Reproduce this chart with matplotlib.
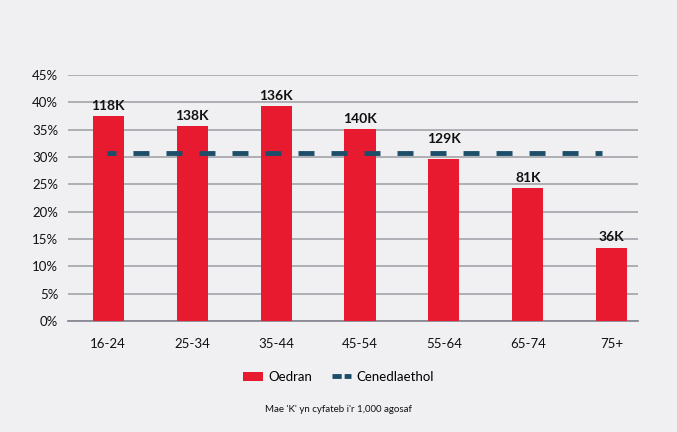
import numpy as np
import matplotlib.pyplot as plt

categories = ['16-24', '25-34', '35-44', '45-54', '55-64', '65-74', '75+']
oedran = [37.5, 35.7, 39.3, 35.1, 29.6, 24.3, 13.4]
counts = ['118K', '138K', '136K', '140K', '129K', '81K', '36K']
cenedlaethol = 30.7
yticks = [0, 5, 10, 15, 20, 25, 30, 35, 40, 45]

bg = '#f0f0f3'
red = '#e81a30'
navy = '#1d4e69'

plt.rcParams['font.family'] = ['Lato', 'DejaVu Sans']

fig = plt.figure(figsize=(6.77, 4.32), dpi=100, facecolor=bg)
ax = fig.add_axes([0.1004, 0.257, 0.8416, 0.569], facecolor=bg)

x = np.arange(len(categories))
bars = ax.bar(x, oedran, width=0.37, color=red, zorder=3, label='Oedran')

# label sits above the bar, or above the national line if it would clash
for xi, v, c in zip(x, oedran, counts):
    y = v + 0.8
    if v < cenedlaethol + 0.5 and v + 3.5 > cenedlaethol:
        y = cenedlaethol + 1.6
    ax.text(xi, y, c, ha='center', va='bottom', fontsize=10,
            fontweight='bold', color='#111111', zorder=5)

# dash pattern in points: 16px on, 17px off, first dash cut short
line, = ax.plot([-0.01, 5.88], [cenedlaethol, cenedlaethol], color=navy,
                lw=3.5, zorder=4, dash_capstyle='butt', label='Cenedlaethol')
line.set_linestyle((1.45, (3.29, 3.5)))

ax.set_xlim(-0.48, 6.31)
ax.set_ylim(0, 45)
ax.set_yticks(yticks)
ax.set_yticklabels([f'{t}%' for t in yticks])
ax.set_xticks(x)
ax.set_xticklabels(categories)
ax.tick_params(axis='both', length=0, labelsize=9.5, colors='#111111')
ax.tick_params(axis='x', pad=12)
ax.tick_params(axis='y', pad=7)
ax.yaxis.grid(True, color='#a8a8b0', lw=1.3, zorder=0)
for s in ['top', 'right', 'left']:
    ax.spines[s].set_visible(False)
ax.spines['bottom'].set_color('#8a8a95')
ax.spines['bottom'].set_linewidth(1.3)

leg_line, = plt.plot([], [], color=navy, lw=3.5, dashes=(1.9, 0.6))
fig.legend([bars, leg_line], ['Oedran', 'Cenedlaethol'], loc='center',
           bbox_to_anchor=(0.5, 1 - 377 / 432), ncol=2, frameon=False,
           fontsize=9.5, handlelength=1.5, handleheight=0.7,
           columnspacing=1.5, handletextpad=0.4)
fig.text(0.5, 1 - 410 / 432, "Mae 'K' yn cyfateb i'r 1,000 agosaf",
         ha='center', va='center', fontsize=7, color='#111111')

fig.savefig('out.png', dpi=100, facecolor=bg)
